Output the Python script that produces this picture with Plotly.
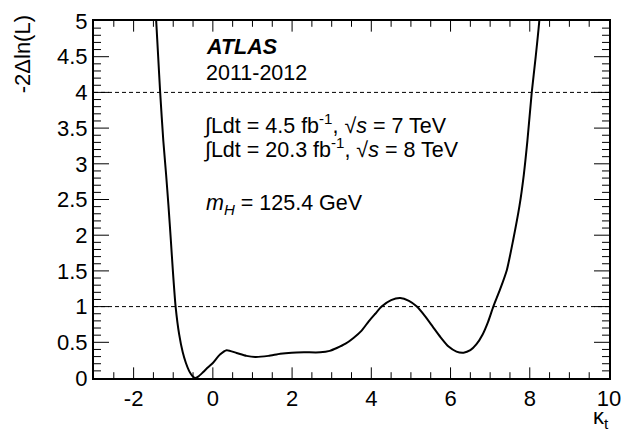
import plotly.graph_objects as go

# Profile likelihood scan: kappa_t vs -2 Delta ln(L)
kappa_t = [-1.46, -1.43, -1.38, -1.33, -1.25, -1.18, -1.12, -1.06, -1.01, -0.94, -0.85,
           -0.76, -0.68, -0.60, -0.52, -0.45, -0.37, -0.25, -0.12, 0.0, 0.18, 0.35, 0.6,
           0.85, 1.07, 1.4, 1.7, 1.99, 2.3, 2.71, 2.95, 3.13, 3.35, 3.55, 3.75, 3.93,
           4.1, 4.26, 4.5, 4.73, 4.95, 5.15, 5.35, 5.55, 5.75, 5.95, 6.15, 6.33, 6.5,
           6.65, 6.81, 6.95, 7.08, 7.25, 7.42, 7.58, 7.74, 7.85, 7.94, 8.05, 8.15, 8.24,
           8.27]
nll2 = [5.3, 5.0, 4.5, 4.0, 3.32, 2.85, 2.41, 1.93, 1.51, 1.0, 0.61,
        0.36, 0.21, 0.10, 0.03, 0.0, 0.02, 0.08, 0.15, 0.21, 0.33, 0.39, 0.35,
        0.31, 0.295, 0.31, 0.34, 0.355, 0.36, 0.36, 0.38, 0.42, 0.48, 0.56, 0.66, 0.79,
        0.90, 1.0, 1.09, 1.12, 1.08, 1.0, 0.87, 0.72, 0.57, 0.44, 0.37, 0.355, 0.39,
        0.47, 0.61, 0.79, 1.0, 1.24, 1.51, 1.93, 2.41, 2.85, 3.32, 4.0, 4.5, 5.0,
        5.3]

ref_levels = [1, 4]
x_tickvals = [-2, 0, 2, 4, 6, 8, 10]
x_ticktext = ["-2", "0", "2", "4", "6", "8", "10"]
x_range = [-3, 10]
y_range = [0, 5]
x_major_step, x_minor_step = 2, 0.5
y_major_step, y_minor_step = 0.5, 0.1

FONT = "Liberation Sans, Arial, Helvetica, sans-serif"
TICKFONT = dict(family=FONT, size=22, color="black")

ML, MR, MT, MB = 94, 34, 9, 54
W, H = 643, 432
pw, ph = W - ML - MR, H - MT - MB

fig = go.Figure()
fig.add_trace(go.Scatter(x=kappa_t, y=nll2, mode="lines",
                         line=dict(color="black", width=2, shape="spline", smoothing=0.6),
                         showlegend=False, hoverinfo="skip"))

for lv in ref_levels:
    fig.add_shape(type="line", xref="paper", x0=0, x1=1, yref="y", y0=lv, y1=lv,
                  line=dict(color="black", width=1, dash="4px,3px"))

# ROOT-style inside tick marks on all four sides (positions through the axis scales)
TICKLINE = dict(color="black", width=1)
nx = int(round((x_range[1] - x_range[0]) / x_minor_step))
for i in range(1, nx):
    v = x_range[0] + i * x_minor_step
    major = abs(v / x_major_step - round(v / x_major_step)) < 1e-6
    f = (11 if major else 6) / ph
    fig.add_shape(type="line", xref="x", x0=v, x1=v, yref="paper", y0=0, y1=f,
                  line=TICKLINE)
    fig.add_shape(type="line", xref="x", x0=v, x1=v, yref="paper", y0=1, y1=1 - f,
                  line=TICKLINE)
ny = int(round((y_range[1] - y_range[0]) / y_minor_step))
for i in range(1, ny):
    v = y_range[0] + i * y_minor_step
    major = abs(v / y_major_step - round(v / y_major_step)) < 1e-6
    f = (15 if major else 7) / pw
    fig.add_shape(type="line", yref="y", y0=v, y1=v, xref="paper", x0=0, x1=f,
                  line=TICKLINE)
    fig.add_shape(type="line", yref="y", y0=v, y1=v, xref="paper", x0=1, x1=1 - f,
                  line=TICKLINE)

xaxis = dict(range=x_range, tickmode="array", tickvals=x_tickvals, ticktext=x_ticktext,
             ticks="", showgrid=False, zeroline=False, showline=True, linecolor="black",
             linewidth=2, mirror=True, tickfont=TICKFONT, ticklabeloverflow="allow")
yaxis = dict(range=y_range, tickmode="linear", tick0=0, dtick=y_major_step,
             ticks="", showgrid=False, zeroline=False, showline=True, linecolor="black",
             linewidth=2, mirror=True, tickfont=TICKFONT, ticklabeloverflow="allow")

def px(xpix):
    return (xpix - ML) / pw
def py(ypix):
    return (H - MB - ypix) / ph

TS = 21.5
ann = [
    dict(text="<b><i>ATLAS</i></b>", x=px(204), y=py(36)),
    dict(text="2011-2012", x=px(204), y=py(63)),
    dict(text="∫Ldt = 4.5 fb<sup>-1</sup>, √<i>s</i> = 7 TeV", x=px(201), y=py(115)),
    dict(text="∫Ldt = 20.3 fb<sup>-1</sup>, √<i>s</i> = 8 TeV", x=px(201), y=py(140)),
    dict(text="<i>m<sub>H</sub></i> = 125.4 GeV", x=px(204), y=py(199)),
]
for a in ann:
    fig.add_annotation(text=a["text"], xref="paper", yref="paper", x=a["x"], y=a["y"],
                       xanchor="left", yanchor="middle", showarrow=False,
                       font=dict(family=FONT, size=TS, color="black"))

fig.add_annotation(text="-2Δln(L)", xref="paper", yref="paper", x=px(22), y=py(1),
                   xanchor="center", yanchor="top", textangle=-90, showarrow=False,
                   font=dict(family=FONT, size=22, color="black"))
fig.add_annotation(text="κ<sub>t</sub>", xref="paper", yref="paper", x=px(611), y=py(403),
                   xanchor="right", yanchor="top", showarrow=False,
                   font=dict(family=FONT, size=22, color="black"))

fig.update_layout(width=W, height=H, margin=dict(l=ML, r=MR, t=MT, b=MB),
                  plot_bgcolor="white", paper_bgcolor="white",
                  font=dict(family=FONT, color="black"),
                  xaxis=xaxis, yaxis=yaxis)

fig.write_html("out.html", config={"displayModeBar": False},
               post_script="document.body.style.margin='0px';")
